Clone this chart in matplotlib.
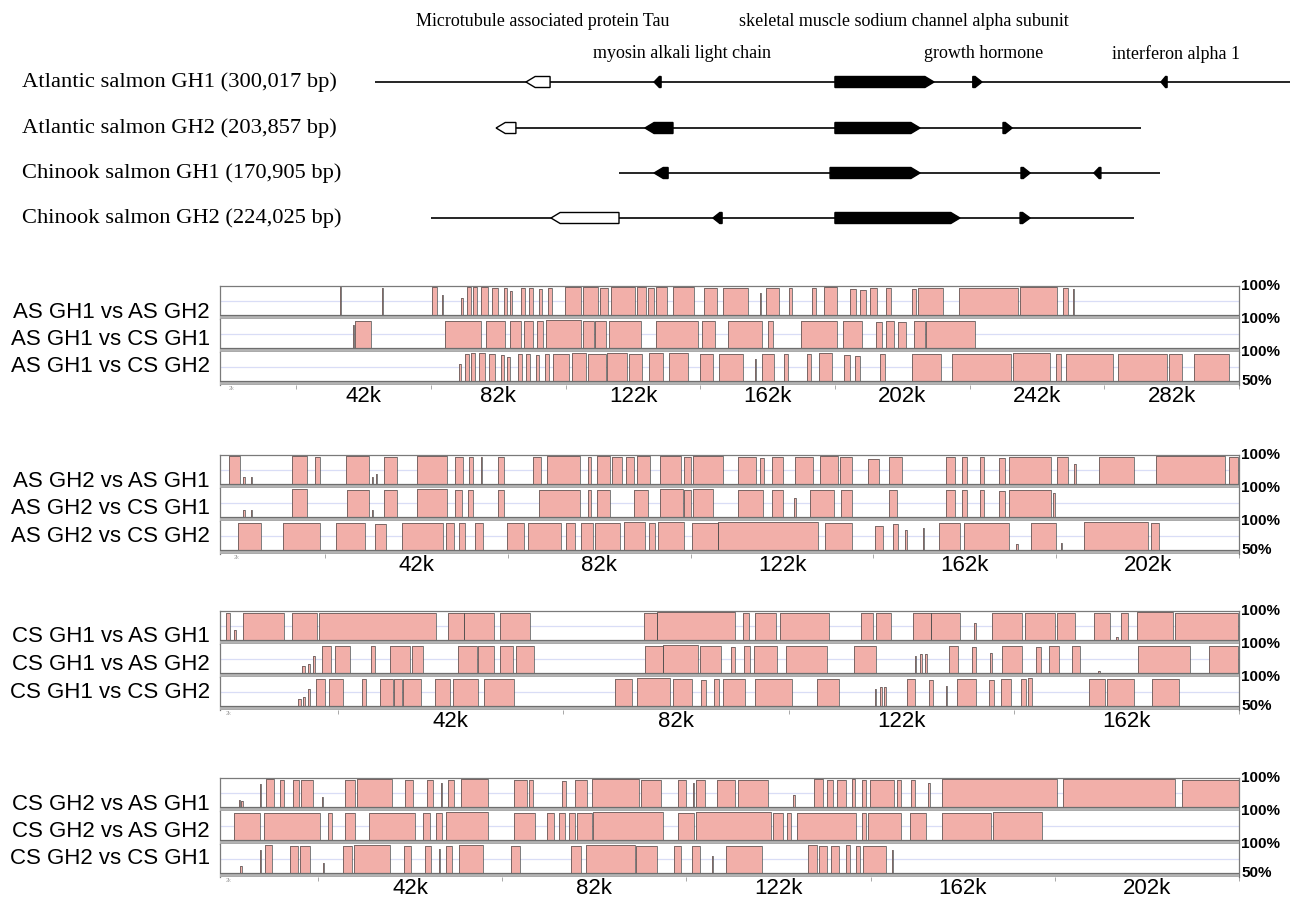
import matplotlib
matplotlib.use("Agg")
import matplotlib.pyplot as plt
from matplotlib.patches import Polygon

# ------------------------------------------------------------------ data
# gene map: positions in kb on the common map (AS GH1 runs 0..300)
seq_labels = ["Atlantic salmon GH1 (300,017 bp)",
              "Atlantic salmon GH2 (203,857 bp)",
              "Chinook salmon GH1 (170,905 bp)",
              "Chinook salmon GH2 (224,025 bp)"]
seq_spans = [(0.0, 300.0), (39.7, 251.1), (80.0, 257.4), (18.4, 248.9)]

# (start, end, strand, style)
as_gh1_genes = [(49.5, 57.4, "-", "open"), (91.5, 93.8, "-", "solid"),
                (150.8, 183.3, "+", "solid"), (196.0, 199.0, "+", "solid"),
                (257.7, 259.7, "-", "solid")]
as_gh2_genes = [(39.7, 46.2, "-", "open"), (88.5, 97.7, "-", "solid"),
                (150.8, 178.7, "+", "solid"), (205.9, 208.9, "+", "solid")]
cs_gh1_genes = [(91.5, 96.1, "-", "solid"), (149.2, 178.7, "+", "solid"),
                (211.8, 214.8, "+", "solid"), (235.7, 238.0, "-", "solid")]
cs_gh2_genes = [(57.7, 80.0, "-", "open"), (110.8, 113.8, "-", "solid"),
                (150.8, 191.8, "+", "solid"), (211.5, 214.8, "+", "solid")]
seq_genes = [as_gh1_genes, as_gh2_genes, cs_gh1_genes, cs_gh2_genes]

gene_names = ["Microtubule associated protein Tau", "myosin alkali light chain",
              "skeletal muscle sodium channel alpha subunit", "growth hormone",
              "interferon alpha 1"]

# VISTA conserved regions: (start kb, end kb, identity %)
as1_vs_as2 = [(34.5, 34.9, 99), (47.0, 47.3, 97), (61.6, 63.1, 99), (64.6, 64.9, 85),
              (70.2, 70.8, 80), (72.0, 73.2, 98), (73.8, 75.0, 98), (76.2, 78.1, 98),
              (79.3, 81.1, 97), (82.9, 83.8, 96), (84.7, 85.4, 92), (87.9, 89.1, 97),
              (90.3, 91.5, 97), (93.3, 94.0, 95), (95.8, 97.0, 96), (100.9, 105.6, 98),
              (106.2, 110.5, 98), (111.1, 113.5, 97), (114.4, 121.5, 98), (122.0, 124.7, 98),
              (125.3, 127.2, 97), (127.7, 130.9, 98), (132.7, 138.9, 98), (141.8, 145.7, 97),
              (147.4, 154.8, 97), (158.2, 158.6, 88), (160.2, 163.9, 96), (166.9, 167.9, 97),
              (173.6, 174.8, 96), (177.3, 181.0, 98), (184.7, 186.5, 95), (187.8, 189.5, 93),
              (190.8, 192.8, 96), (195.4, 196.9, 97), (203.0, 204.3, 95), (204.8, 212.2, 97),
              (216.8, 234.2, 97), (234.8, 245.8, 98), (247.5, 249.0, 96), (250.4, 250.8, 94)]
as1_vs_cs1 = [(38.6, 38.9, 90), (39.2, 43.9, 97), (65.5, 76.2, 97), (77.7, 83.3, 97),
              (84.7, 87.9, 96), (88.7, 91.5, 97), (92.7, 94.3, 96), (95.2, 105.6, 98),
              (106.2, 109.3, 97), (109.8, 112.9, 97), (113.9, 123.3, 97), (127.6, 140.1, 97),
              (141.2, 145.0, 97), (149.0, 159.0, 97), (160.6, 162.1, 96), (170.4, 181.0, 97),
              (182.8, 188.4, 97), (192.6, 194.2, 95), (195.4, 197.8, 96), (199.0, 201.2, 95),
              (203.6, 207.0, 96), (207.3, 221.6, 97)]
as1_vs_cs2 = [(70.2, 70.8, 80), (72.0, 73.2, 97), (73.8, 75.0, 98), (76.2, 78.1, 98),
              (79.3, 81.1, 97), (82.9, 83.8, 95), (84.7, 85.4, 92), (87.9, 89.1, 97),
              (90.3, 91.5, 96), (93.3, 94.0, 95), (95.8, 97.0, 96), (98.3, 103.1, 97),
              (103.8, 108.0, 98), (108.6, 114.1, 97), (114.4, 120.3, 98), (120.9, 124.7, 97),
              (126.6, 130.9, 98), (132.7, 138.3, 98), (141.8, 145.7, 97), (147.4, 154.8, 97),
              (158.2, 158.6, 88), (160.2, 163.9, 96), (166.9, 167.9, 97), (173.6, 174.8, 96),
              (177.3, 181.0, 98), (184.7, 186.5, 95), (187.8, 189.5, 93), (195.4, 196.9, 97),
              (204.8, 213.4, 96), (216.8, 234.2, 97), (234.8, 245.8, 98), (247.5, 249.0, 96),
              (250.6, 264.6, 97), (266.0, 280.6, 97), (281.1, 285.0, 96), (288.5, 298.9, 97)]

as2_vs_as1 = [(0.8, 3.0, 98), (3.7, 4.0, 62), (5.2, 5.5, 62), (13.6, 16.6, 98),
              (18.1, 19.1, 96), (24.4, 29.0, 98), (29.6, 29.9, 62), (30.5, 30.8, 68),
              (32.1, 34.8, 97), (38.8, 44.9, 98), (46.4, 48.0, 96), (49.3, 50.1, 96),
              (51.7, 52.0, 97), (55.1, 56.3, 96), (62.2, 63.9, 96), (65.1, 71.8, 98),
              (73.3, 73.9, 96), (75.2, 77.7, 98), (78.1, 80.1, 97), (81.0, 82.7, 97),
              (83.2, 85.9, 98), (87.9, 92.1, 98), (92.8, 94.2, 96), (94.5, 100.6, 98),
              (103.7, 107.2, 97), (108.0, 108.9, 94), (110.5, 112.7, 97), (115.1, 118.8, 97),
              (120.1, 123.9, 98), (124.2, 126.6, 97), (129.9, 132.0, 93), (134.1, 136.7, 97),
              (145.6, 147.4, 96), (148.8, 149.8, 96), (152.4, 153.4, 96), (156.3, 157.5, 95),
              (158.3, 166.8, 97), (168.1, 170.2, 96), (171.5, 171.8, 85), (176.5, 183.6, 97),
              (188.0, 202.0, 98), (202.8, 204.5, 97)]
as2_vs_cs1 = [(3.7, 4.0, 62), (5.2, 5.5, 62), (13.6, 16.6, 98), (24.6, 29.0, 97),
              (29.6, 29.9, 62), (32.1, 34.8, 97), (38.8, 44.9, 98), (46.4, 47.8, 96),
              (49.0, 50.1, 96), (55.1, 56.3, 96), (63.4, 71.8, 97), (73.3, 74.0, 96),
              (75.2, 77.7, 97), (82.6, 85.5, 97), (87.9, 92.6, 98), (92.8, 94.2, 96),
              (94.5, 98.6, 98), (103.7, 108.6, 97), (110.5, 112.7, 96), (115.0, 115.3, 82),
              (118.1, 123.1, 97), (124.4, 126.6, 97), (134.1, 135.8, 97), (145.6, 147.4, 96),
              (148.8, 149.8, 96), (152.4, 153.4, 96), (156.3, 157.5, 95), (158.3, 166.8, 97),
              (167.3, 167.6, 92)]
as2_vs_cs2 = [(3.0, 8.0, 97), (12.7, 20.8, 97), (24.4, 30.7, 97), (32.9, 35.4, 95),
              (38.8, 47.7, 97), (48.4, 50.1, 96), (51.3, 52.6, 96), (54.8, 56.6, 96),
              (61.9, 65.5, 97), (66.3, 73.6, 97), (74.8, 76.6, 97), (78.1, 80.6, 97),
              (81.0, 86.6, 97), (87.5, 92.1, 98), (92.8, 94.2, 96), (94.9, 100.6, 98),
              (102.2, 108.0, 97), (108.0, 129.8, 98), (131.4, 137.3, 96), (142.3, 144.0, 92),
              (146.2, 147.4, 95), (149.0, 149.3, 85), (152.8, 153.1, 88), (156.3, 160.9, 97),
              (161.8, 171.7, 97), (173.3, 173.6, 60), (176.5, 181.9, 97), (183.0, 183.3, 62),
              (188.0, 202.0, 98), (202.8, 204.5, 97)]

cs1_vs_as1 = [(2.0, 2.6, 96), (3.3, 3.6, 68), (4.8, 11.7, 97), (13.1, 17.3, 97),
              (17.6, 37.1, 97), (39.2, 41.8, 97), (41.9, 46.8, 97), (47.9, 52.9, 97),
              (72.0, 74.1, 97), (74.1, 87.2, 98), (88.6, 89.5, 97), (90.6, 94.1, 97),
              (94.7, 102.9, 97), (108.3, 110.3, 96), (110.8, 113.4, 97), (117.0, 120.0, 97),
              (120.1, 124.9, 97), (127.3, 127.6, 80), (130.3, 135.2, 97), (135.8, 140.8, 97),
              (141.2, 144.2, 97), (147.4, 150.0, 96), (151.0, 151.3, 55), (151.9, 153.0, 96),
              (154.6, 160.6, 98), (160.9, 171.4, 97)]
cs1_vs_as2 = [(14.8, 15.3, 62), (15.8, 16.1, 66), (16.6, 16.9, 80), (18.0, 19.6, 97),
              (20.3, 22.8, 97), (26.3, 27.0, 96), (29.4, 32.8, 97), (33.2, 35.0, 97),
              (40.9, 44.0, 97), (44.2, 46.8, 97), (47.9, 50.0, 96), (50.6, 53.6, 97),
              (72.2, 75.1, 97), (75.1, 81.0, 98), (81.4, 84.9, 97), (86.5, 87.3, 95),
              (88.7, 89.7, 96), (90.4, 94.2, 97), (95.7, 102.6, 97), (107.1, 110.9, 97),
              (117.3, 117.6, 80), (118.2, 118.5, 82), (119.0, 119.3, 82), (123.1, 124.5, 97),
              (126.9, 127.6, 95), (129.9, 130.2, 85), (131.9, 135.2, 97), (137.6, 138.4, 95),
              (139.8, 141.5, 96), (143.6, 145.0, 96), (148.0, 148.3, 54), (154.7, 163.4, 97),
              (166.5, 171.4, 97)]
cs1_vs_cs2 = [(14.8, 15.3, 62), (15.8, 16.1, 66), (16.6, 16.9, 80), (18.0, 19.6, 97),
              (20.3, 22.8, 97), (26.3, 27.0, 96), (29.4, 31.7, 97), (31.9, 33.3, 97),
              (33.5, 36.7, 97), (39.2, 41.8, 97), (42.3, 46.8, 97), (47.9, 53.3, 97),
              (71.1, 74.1, 97), (75.1, 81.0, 98), (81.4, 84.9, 97), (86.5, 87.3, 95),
              (88.7, 89.7, 96), (90.4, 94.2, 97), (96.0, 102.6, 97), (107.1, 110.9, 97),
              (117.3, 117.6, 80), (118.2, 118.5, 82), (119.0, 119.3, 82), (123.1, 124.5, 97),
              (126.9, 127.6, 95), (129.9, 130.2, 85), (131.9, 135.2, 97), (137.6, 138.4, 95),
              (139.8, 141.5, 96), (143.3, 144.2, 96), (144.6, 145.3, 98), (155.4, 158.2, 96),
              (158.5, 163.4, 96), (166.5, 171.4, 97)]

cs2_vs_as1 = [(4.7, 5.0, 62), (5.3, 5.6, 60), (9.3, 9.6, 90), (10.5, 12.3, 98),
              (13.6, 14.5, 96), (16.3, 17.6, 97), (18.1, 20.8, 97), (22.6, 22.9, 68),
              (27.5, 29.7, 97), (30.1, 37.7, 98), (40.4, 42.2, 97), (45.3, 46.6, 96),
              (48.2, 48.5, 92), (49.7, 51.0, 96), (52.5, 58.3, 98), (64.0, 66.7, 97),
              (67.2, 68.0, 96), (74.3, 75.2, 95), (77.0, 79.6, 97), (80.6, 90.8, 98),
              (91.2, 95.5, 97), (99.1, 100.8, 96), (102.3, 102.6, 92), (103.1, 104.9, 97),
              (107.5, 111.5, 97), (112.0, 118.5, 97), (124.0, 124.3, 70), (128.5, 130.3, 98),
              (131.2, 132.5, 96), (133.4, 135.2, 97), (136.6, 137.3, 98), (138.8, 139.6, 96),
              (140.5, 145.7, 97), (146.3, 147.2, 96), (149.2, 150.1, 96), (153.0, 153.3, 92),
              (156.0, 180.7, 98), (182.0, 206.1, 98), (207.5, 220.0, 97)]
cs2_vs_as2 = [(3.8, 9.2, 97), (10.1, 22.1, 97), (23.9, 24.8, 96), (27.5, 29.7, 97),
              (32.8, 42.6, 97), (44.4, 45.8, 96), (47.1, 48.4, 96), (49.3, 58.3, 98),
              (64.0, 68.4, 97), (71.1, 72.5, 96), (73.6, 74.9, 96), (75.7, 77.0, 96),
              (77.4, 80.6, 97), (81.0, 95.9, 98), (99.1, 102.7, 97), (103.1, 119.2, 98),
              (119.6, 121.8, 97), (122.7, 123.4, 96), (124.8, 137.4, 97), (138.8, 139.6, 96),
              (140.1, 147.2, 97), (149.0, 152.6, 97), (156.0, 166.4, 97), (166.9, 177.4, 98)]
cs2_vs_cs1 = [(5.1, 5.4, 62), (9.3, 9.6, 90), (10.5, 12.1, 98), (15.9, 17.6, 97),
              (18.1, 20.3, 97), (23.0, 23.3, 68), (27.5, 29.3, 97), (29.7, 37.7, 98),
              (40.6, 42.2, 97), (45.3, 46.6, 96), (48.2, 48.5, 92), (49.7, 51.0, 96),
              (52.5, 57.8, 98), (64.0, 65.8, 97), (77.0, 79.2, 97), (80.1, 90.9, 98),
              (91.0, 95.5, 97), (99.3, 100.8, 96), (103.1, 104.9, 97), (107.5, 107.8, 80),
              (110.5, 118.3, 97), (128.5, 130.3, 98), (130.8, 132.5, 96), (133.4, 135.2, 97),
              (136.6, 137.5, 98), (138.8, 139.6, 96), (140.4, 145.4, 97), (146.6, 146.9, 90)]

group_names = [["AS GH1 vs AS GH2", "AS GH1 vs CS GH1", "AS GH1 vs CS GH2"],
               ["AS GH2 vs AS GH1", "AS GH2 vs CS GH1", "AS GH2 vs CS GH2"],
               ["CS GH1 vs AS GH1", "CS GH1 vs AS GH2", "CS GH1 vs CS GH2"],
               ["CS GH2 vs AS GH1", "CS GH2 vs AS GH2", "CS GH2 vs CS GH1"]]
group_tracks = [[as1_vs_as2, as1_vs_cs1, as1_vs_cs2],
                [as2_vs_as1, as2_vs_cs1, as2_vs_cs2],
                [cs1_vs_as1, cs1_vs_as2, cs1_vs_cs2],
                [cs2_vs_as1, cs2_vs_as2, cs2_vs_cs1]]
group_ticks = [[42, 82, 122, 162, 202, 242, 282],
               [42, 82, 122, 162, 202],
               [42, 82, 122, 162],
               [42, 82, 122, 162, 202]]

# ------------------------------------------------------------------ layout
W, H = 1290, 900
PINK = "#f2afa9"
plt.rcParams["font.family"] = ["Liberation Sans", "DejaVu Sans"]

fig = plt.figure(figsize=(W / 100, H / 100), dpi=100)


def box(x0, y0, x1, y1):
    # pixel box (top-left origin) -> figure fraction rect
    return [x0 / W, 1 - y1 / H, (x1 - x0) / W, (y1 - y0) / H]


# gene map
gm = fig.add_axes(box(0, 0, W, 240))
gm.set_xlim(-375 / 3.05, 300)
gm.set_ylim(240, 0)
gm.axis("off")

row_y = [82, 128, 173, 218]
half_h = 5.5


def gene_shape(s, e, strand, y):
    tip = min(3.0, 0.75 * (e - s))
    if strand == "+":
        pts = [(s, y - half_h), (e - tip, y - half_h), (e, y), (e - tip, y + half_h), (s, y + half_h)]
    else:
        pts = [(e, y - half_h), (s + tip, y - half_h), (s, y), (s + tip, y + half_h), (e, y + half_h)]
    return pts


for i, (lab, (a, b), genes) in enumerate(zip(seq_labels, seq_spans, seq_genes)):
    y = row_y[i]
    gm.plot([a, b], [y, y], color="black", lw=1.2, zorder=1, solid_capstyle="butt")
    for s, e, strand, style in genes:
        face = "white" if style == "open" else "black"
        gm.add_patch(Polygon(gene_shape(s, e, strand, y), closed=True,
                             facecolor=face, edgecolor="black", lw=1.0, zorder=2))
    fig.text(22 / W, 1 - y / H, lab, ha="left", va="center",
             family="Liberation Serif", fontsize=16.2)

# gene labels centred over the AS GH1 genes
label_x = [54.9, 100.8, 173.3, 199.7, 262.5]
label_y = [21, 54, 21, 54, 54]
for name, x, y in zip(gene_names, label_x, label_y):
    gm.text(x, y, name, ha="center", va="center", family="Liberation Serif", fontsize=13)

# VISTA panels
group_tops = [286, 455, 611, 778]
group_xlims = [(-0.7, 299.4), (-1.0, 204.8), (1.0, 171.6), (0.7, 219.8)]
pitch, data_h, bar_h = 33, 29, 4
ylo = 50 - bar_h / data_h * 50
X0, X1 = 220, 1239

for g in range(4):
    top = group_tops[g]
    for i, segs in enumerate(group_tracks[g]):
        t = top + i * pitch
        ax = fig.add_axes(box(X0, t, X1, t + pitch))
        ax.set_xlim(group_xlims[g])
        ax.set_ylim(ylo, 100)
        ax.axhline(75, color="#d9ddf6", lw=0.9, zorder=1)
        for s, e, idt in segs:
            ax.fill([s, s, e, e], [50, idt, idt, 50], color=PINK, lw=0, zorder=2)
            ax.plot([s, s, e, e], [50, idt, idt, 50], color="#4a4a4a", lw=0.5, zorder=3)
        ax.axhspan(ylo, 50, color="#b4b4b4", lw=0, zorder=4)
        ax.axhline(50, color="#6e6e6e", lw=0.9, zorder=5)
        ax.axhline(ylo, color="#6e6e6e", lw=0.9, zorder=5)
        for side in ["left", "right", "top"]:
            ax.spines[side].set_color("#7a7a7a")
            ax.spines[side].set_linewidth(0.9)
        ax.spines["bottom"].set_visible(False)
        if i > 0:
            ax.spines["top"].set_visible(False)
        ax.set_yticks([])
        ax.set_xticks([])
        ax.text(1.002, 100, "100%", transform=ax.get_yaxis_transform(),
                ha="left", va="center", fontsize=11, fontweight="bold")
        fig.text(210 / W, 1 - (top + 26 + 27.5 * i) / H, group_names[g][i],
                 ha="right", va="center", fontsize=16)
        if i == 2:
            ax.text(1.002, 50, "50%", transform=ax.get_yaxis_transform(),
                    ha="left", va="center", fontsize=11, fontweight="bold")
            ticks = group_ticks[g]
            ax.set_xticks(ticks)
            ax.set_xticklabels([f"{v}k" for v in ticks])
            ax.set_xticks([v - 20 for v in ticks] + [ticks[-1] + 20], minor=True)
            ax.tick_params(axis="x", which="major", length=0, pad=1, labelsize=16)
            ax.tick_params(axis="x", which="minor", length=3, width=0.6, color="#9a9a9a")
            ax.text(2, ylo - 1.5, "2k", fontsize=4, color="#aaaaaa", ha="left", va="top")

fig.savefig("out.png", dpi=100)
